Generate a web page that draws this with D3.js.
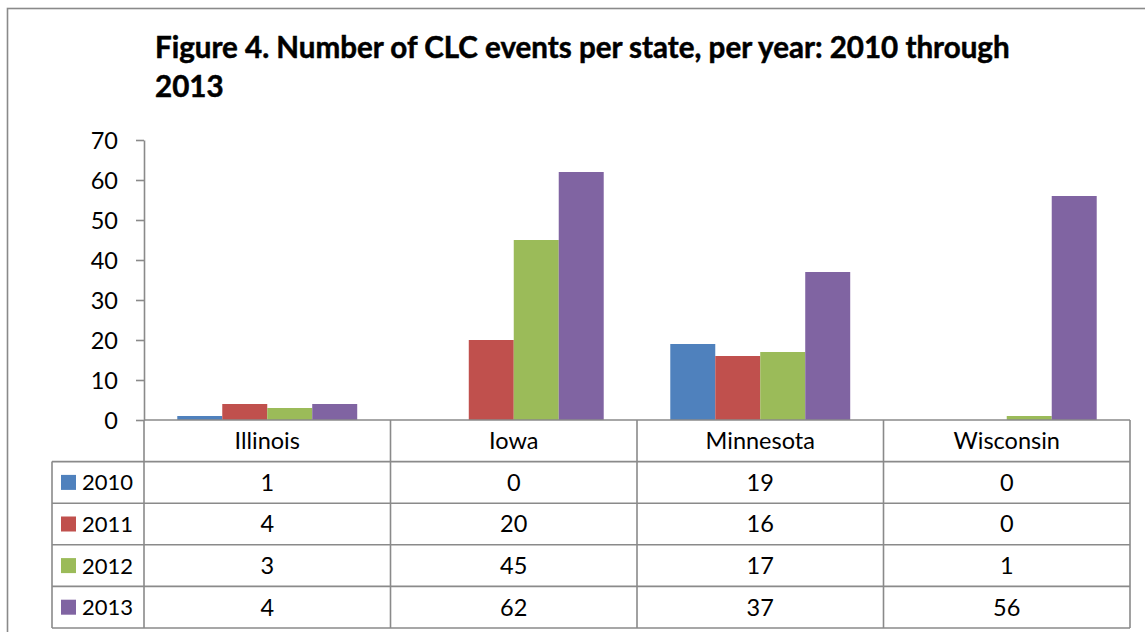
<!DOCTYPE html>
<html>
<head>
<meta charset="utf-8">
<script src="https://cdn.jsdelivr.net/npm/d3@7"></script>
<style>
  html, body { margin: 0; padding: 0; background: #fff; }
  svg { display: block; }
  text { font-family: Lato, "Open Sans", sans-serif; fill: #000; }
</style>
</head>
<body>
<svg id="chart" width="1145" height="632"></svg>
<script>
// ---- Data ----
const titleLines = ["Figure 4. Number of CLC events per state, per year: 2010 through", "2013"];
const categories = ["Illinois", "Iowa", "Minnesota", "Wisconsin"];
const seriesNames = ["2010", "2011", "2012", "2013"];
const values2010 = [1, 0, 19, 0];
const values2011 = [4, 20, 16, 0];
const values2012 = [3, 45, 17, 1];
const values2013 = [4, 62, 37, 56];
const seriesColors = ["#4F81BD", "#C0504D", "#9BBB59", "#8064A2"];
const yTicks = [0, 10, 20, 30, 40, 50, 60, 70];

const seriesValues = [values2010, values2011, values2012, values2013];
const series = seriesNames.map((name, i) => ({ name, values: seriesValues[i], color: seriesColors[i] }));

// ---- Layout ----
const svg = d3.select("#chart");
const W = 1145, H = 632;
const plotLeft = 144, plotRight = 1130, plotTop = 140, plotBottom = 420;
const tableLeft = 52, rowH = 41.6;
const lineColor = "#8a8a8a";
const fs = "23.5px";

svg.append("rect").attr("width", W).attr("height", H).attr("fill", "#fff");
// outer chart border
svg.append("rect")
  .attr("x", 7.5).attr("y", 8.5).attr("width", 1160).attr("height", 660)
  .attr("fill", "none").attr("stroke", lineColor).attr("stroke-width", 1.6);

// ---- Title ----
const title = svg.append("text").attr("x", 155).attr("y", 58)
  .style("font-weight", "bold").style("font-size", "32px")
  .attr("stroke", "#000").attr("stroke-width", 0.5);
title.text(titleLines[0]);
const targetW = 855;
const measured = title.node().getComputedTextLength();
const tSize = 32 * targetW / measured;
title.style("font-size", tSize + "px");
svg.append("text").attr("x", 155).attr("y", 97)
  .attr("stroke", "#000").attr("stroke-width", 0.5)
  .style("font-weight", "bold").style("font-size", tSize + "px").text(titleLines[1]);

// ---- Scales ----
const x = d3.scaleBand().domain(categories).range([plotLeft, plotRight]).paddingInner(0).paddingOuter(0);
const xs = d3.scaleBand().domain(seriesNames).range([0, x.bandwidth()]).paddingInner(0).paddingOuter(0.74);
const y = d3.scaleLinear().domain([0, 70]).range([plotBottom, plotTop]);

// ---- Bars ----
const groups = svg.append("g").selectAll("g").data(series).join("g").attr("fill", d => d.color);
groups.selectAll("rect")
  .data(d => d.values.map((v, i) => ({ v, cat: categories[i], s: d.name })))
  .join("rect")
  .attr("x", d => x(d.cat) + xs(d.s))
  .attr("y", d => y(d.v))
  .attr("width", xs.bandwidth())
  .attr("height", d => y(0) - y(d.v));

// ---- Y axis ----
const yAxis = svg.append("g").attr("transform", `translate(${plotLeft},0)`)
  .call(d3.axisLeft(y).tickValues(yTicks).tickSize(8).tickPadding(18).tickSizeOuter(0));
yAxis.select(".domain").attr("stroke", lineColor).attr("stroke-width", 1.6);
yAxis.selectAll(".tick line").attr("stroke", lineColor).attr("stroke-width", 1.6);
yAxis.selectAll(".tick text").style("font-size", fs).style("font-family", "Lato, 'Open Sans', sans-serif").attr("fill", "#000").attr("dy", "0.36em");

// zero line across plot
svg.append("line").attr("x1", plotLeft).attr("x2", plotRight).attr("y1", y(0)).attr("y2", y(0))
  .attr("stroke", lineColor).attr("stroke-width", 1.6);

// ---- Data table ----
const tbl = svg.append("g");
const nRows = series.length;
const tableBottom = plotBottom + rowH * (nRows + 1);
const bounds = categories.map(c => x(c)).concat([plotRight]);
bounds.forEach(bx => {
  tbl.append("line").attr("x1", bx).attr("x2", bx).attr("y1", plotBottom).attr("y2", tableBottom)
    .attr("stroke", lineColor).attr("stroke-width", 1.6);
});
tbl.append("line").attr("x1", tableLeft).attr("x2", tableLeft).attr("y1", plotBottom + rowH).attr("y2", tableBottom)
  .attr("stroke", lineColor).attr("stroke-width", 1.6);
for (let r = 1; r <= nRows + 1; r++) {
  const yy = plotBottom + rowH * r;
  tbl.append("line").attr("x1", tableLeft).attr("x2", plotRight).attr("y1", yy).attr("y2", yy)
    .attr("stroke", lineColor).attr("stroke-width", 1.6);
}
tbl.selectAll("text.cat").data(categories).join("text").attr("class", "cat")
  .attr("x", d => x(d) + x.bandwidth() / 2).attr("y", plotBottom + rowH / 2)
  .attr("text-anchor", "middle").attr("dy", "0.36em").style("font-size", fs).text(d => d);
series.forEach((s, r) => {
  const cy = plotBottom + rowH * (r + 1) + rowH / 2;
  tbl.append("rect").attr("x", 61).attr("y", cy - 7.5).attr("width", 15).attr("height", 15).attr("fill", s.color);
  tbl.append("text").attr("x", 82).attr("y", cy).attr("dy", "0.36em").style("font-size", "22px").text(s.name);
  s.values.forEach((v, i) => {
    tbl.append("text").attr("x", x(categories[i]) + x.bandwidth() / 2).attr("y", cy)
      .attr("text-anchor", "middle").attr("dy", "0.36em").style("font-size", fs).text(v);
  });
});
</script>
</body>
</html>
